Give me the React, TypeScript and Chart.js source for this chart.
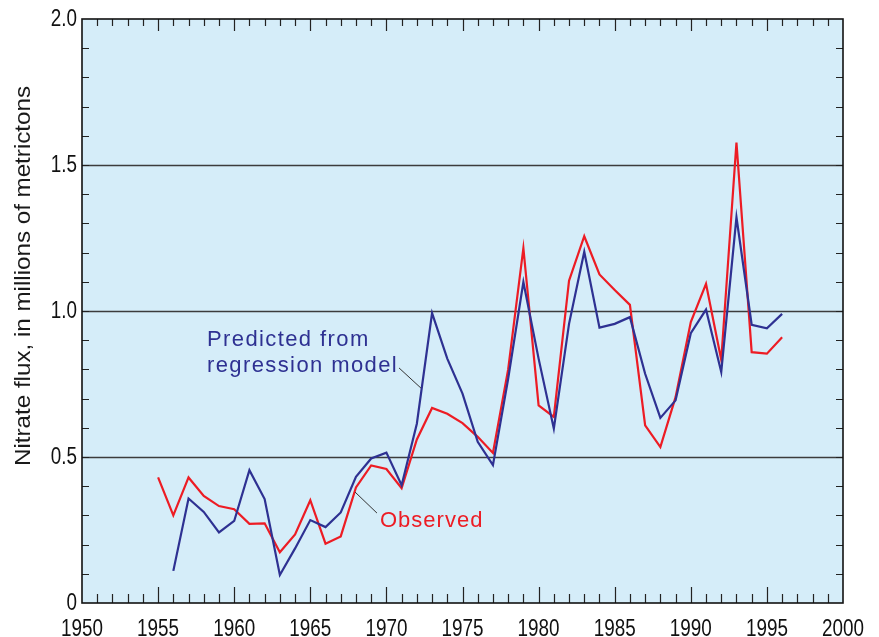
import React, { useEffect, useRef } from "react";
import { Chart, registerables } from "chart.js";

Chart.register(...registerables);

const observedYears = [1955, 1956, 1957, 1958, 1959, 1960, 1961, 1962, 1963, 1964, 1965, 1966, 1967, 1968, 1969, 1970, 1971, 1972, 1973, 1974, 1975, 1976, 1977, 1978, 1979, 1980, 1981, 1982, 1983, 1984, 1985, 1986, 1987, 1988, 1989, 1990, 1991, 1992, 1993, 1994, 1995, 1996];
const observedValues = [0.43, 0.30, 0.43, 0.367, 0.332, 0.321, 0.271, 0.273, 0.174, 0.235, 0.352, 0.203, 0.228, 0.396, 0.471, 0.459, 0.393, 0.56, 0.668, 0.648, 0.616, 0.569, 0.514, 0.80, 1.215, 0.677, 0.637, 1.104, 1.256, 1.125, 1.072, 1.021, 0.608, 0.534, 0.705, 0.962, 1.093, 0.833, 1.577, 0.859, 0.854, 0.910];

const predictedYears = [1956, 1957, 1958, 1959, 1960, 1961, 1962, 1963, 1964, 1965, 1966, 1967, 1968, 1969, 1970, 1971, 1972, 1973, 1974, 1975, 1976, 1977, 1978, 1979, 1980, 1981, 1982, 1983, 1984, 1985, 1986, 1987, 1988, 1989, 1990, 1991, 1992, 1993, 1994, 1995, 1996];
const predictedValues = [0.110, 0.358, 0.312, 0.242, 0.281, 0.455, 0.356, 0.096, 0.187, 0.284, 0.260, 0.310, 0.432, 0.495, 0.515, 0.403, 0.614, 0.993, 0.837, 0.717, 0.552, 0.472, 0.768, 1.099, 0.837, 0.597, 0.956, 1.203, 0.943, 0.956, 0.979, 0.785, 0.634, 0.694, 0.924, 1.005, 0.791, 1.321, 0.953, 0.941, 0.990];

const xTickValues = [1950, 1955, 1960, 1965, 1970, 1975, 1980, 1985, 1990, 1995, 2000];
const xTickLabels = ["1950", "1955", "1960", "1965", "1970", "1975", "1980", "1985", "1990", "1995", "2000"];
const yTickValues = [0, 0.5, 1.0, 1.5, 2.0];
const yTickLabels = ["0", "0.5", "1.0", "1.5", "2.0"];
const yTitle = "Nitrate flux, in millions of metrictons";

const FONT = "'Liberation Sans', Arial, sans-serif";

const framePlugin = {
  id: "frame",
  beforeDatasetsDraw(chart: any) {
    const { ctx, chartArea: a, scales } = chart;
    const xs = scales.x;
    const ys = scales.y;
    ctx.save();
    ctx.strokeStyle = "#3c3c3c";
    ctx.lineWidth = 1.3;
    [0.5, 1.0, 1.5].forEach((v) => {
      const y = Math.round(ys.getPixelForValue(v)) + 0.5;
      ctx.beginPath();
      ctx.moveTo(a.left, y);
      ctx.lineTo(a.right, y);
      ctx.stroke();
    });
    ctx.strokeStyle = "#222";
    ctx.lineWidth = 1.2;
    for (let yr = 1951; yr < 2000; yr++) {
      const x = Math.round(xs.getPixelForValue(yr)) + 0.5;
      const major = yr % 5 === 0;
      ctx.beginPath();
      ctx.moveTo(x, a.bottom);
      ctx.lineTo(x, a.bottom - (major ? 16 : 9));
      ctx.moveTo(x, a.top);
      ctx.lineTo(x, a.top + (major ? 12 : 7));
      ctx.stroke();
    }
    for (let i = 1; i < 20; i++) {
      const y = Math.round(ys.getPixelForValue(i / 10)) + 0.5;
      ctx.beginPath();
      ctx.moveTo(a.left, y);
      ctx.lineTo(a.left + 7, y);
      ctx.moveTo(a.right, y);
      ctx.lineTo(a.right - 7, y);
      ctx.stroke();
    }
    ctx.restore();
  },
  afterDraw(chart: any) {
    const { ctx, chartArea: a, scales } = chart;
    const xs = scales.x;
    const ys = scales.y;
    const px = (yr: number) => xs.getPixelForValue(yr);
    const py = (v: number) => ys.getPixelForValue(v);
    ctx.save();
    ctx.strokeStyle = "#111";
    ctx.lineWidth = 1.6;
    ctx.strokeRect(a.left, a.top, a.right - a.left, a.bottom - a.top);

    const sx = 0.82;
    ctx.fillStyle = "#111";
    ctx.font = `23px ${FONT}`;
    ctx.textBaseline = "alphabetic";
    ctx.textAlign = "center";
    xTickValues.forEach((v, i) => {
      ctx.save();
      ctx.translate(px(v), a.bottom + 33);
      ctx.scale(sx, 1);
      ctx.fillText(xTickLabels[i], 0, 0);
      ctx.restore();
    });
    ctx.font = `23px ${FONT}`;
    ctx.textAlign = "right";
    ctx.textBaseline = "middle";
    yTickValues.forEach((v, i) => {
      ctx.save();
      ctx.translate(a.left - 5, py(v) + 1);
      ctx.scale(sx, 1);
      ctx.fillText(yTickLabels[i], 0, 0);
      ctx.restore();
    });

    ctx.save();
    ctx.fillStyle = "#1a1a1a";
    ctx.font = `22px ${FONT}`;
    ctx.textAlign = "center";
    ctx.textBaseline = "middle";
    const w = ctx.measureText(yTitle).width;
    ctx.translate(24, (a.top + a.bottom) / 2 - 35);
    ctx.rotate(-Math.PI / 2);
    ctx.scale(380 / w, 1);
    ctx.fillText(yTitle, 0, 0);
    ctx.restore();

    ctx.font = `22px ${FONT}`;
    ctx.textBaseline = "alphabetic";
    ctx.textAlign = "left";
    (ctx as any).letterSpacing = "1.4px";
    ctx.fillStyle = "#2e3192";
    ctx.fillText("Predicted from", px(1958.21), py(0.88));
    ctx.fillText("regression model", px(1958.21), py(0.791));
    (ctx as any).letterSpacing = "1px";
    ctx.fillStyle = "#ed1c24";
    ctx.fillText("Observed", px(1969.58), py(0.26));
    (ctx as any).letterSpacing = "0px";

    ctx.strokeStyle = "#333";
    ctx.lineWidth = 1;
    ctx.beginPath();
    ctx.moveTo(px(1970.83), py(0.805));
    ctx.lineTo(px(1972.27), py(0.736));
    ctx.moveTo(px(1969.38), py(0.308));
    ctx.lineTo(px(1967.94), py(0.38));
    ctx.stroke();
    ctx.restore();
  },
};

const bgPlugin = {
  id: "bg",
  beforeDraw(chart: any) {
    const { ctx, chartArea: a } = chart;
    ctx.save();
    ctx.fillStyle = "#d5edf9";
    ctx.fillRect(a.left, a.top, a.right - a.left, a.bottom - a.top);
    ctx.restore();
  },
};

export default function App() {
  const ref = useRef<HTMLCanvasElement>(null);
  useEffect(() => {
    if (!ref.current) return;
    const chart = new Chart(ref.current, {
      type: "line",
      data: {
        datasets: [
          {
            label: "Predicted from regression model",
            data: predictedYears.map((x, i) => ({ x, y: predictedValues[i] })),
            borderColor: "#2e3192",
            borderWidth: 2.2,
            pointRadius: 0,
            tension: 0,
            fill: false,
          },
          {
            label: "Observed",
            data: observedYears.map((x, i) => ({ x, y: observedValues[i] })),
            borderColor: "#ed1c24",
            borderWidth: 2.2,
            pointRadius: 0,
            tension: 0,
            fill: false,
          },
        ],
      },
      options: {
        animation: false,
        responsive: false,
        devicePixelRatio: 1,
        layout: { padding: { top: 19, right: 36, left: 0, bottom: 0 } },
        plugins: {
          legend: { display: false },
          tooltip: { enabled: false },
        },
        scales: {
          x: {
            type: "linear",
            min: 1950,
            max: 2000,
            grid: { display: false },
            border: { display: false },
            ticks: { display: false, stepSize: 5 },
            afterFit: (s: any) => {
              s.height = 34;
            },
          },
          y: {
            type: "linear",
            min: 0,
            max: 2,
            grid: { display: false },
            border: { display: false },
            ticks: { display: false, stepSize: 0.5 },
            afterFit: (s: any) => {
              s.width = 82;
            },
          },
        },
      },
      plugins: [bgPlugin, framePlugin],
    });
    return () => chart.destroy();
  }, []);
  return (
    <div style={{ position: "fixed", left: 0, top: 0, width: 879, height: 637, background: "#fff" }}>
      <canvas ref={ref} width={879} height={637} style={{ width: 879, height: 637, display: "block" }} />
    </div>
  );
}
